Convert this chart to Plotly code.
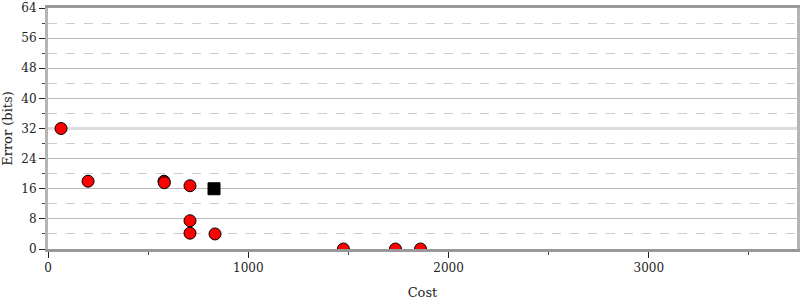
import plotly.graph_objects as go

cost_circles = [65, 200, 579, 581, 709, 709, 709, 834, 1475, 1735, 1860]
error_circles = [32, 18, 18, 17.6, 16.8, 7.5, 4.2, 4.0, 0, 0, 0]
cost_square = [829]
error_square = [16]

x_ticks = [0, 1000, 2000, 3000]
y_ticks = [0, 8, 16, 24, 32, 40, 48, 56, 64]
y_minor = [4, 12, 20, 28, 36, 44, 52, 60]
highlight_y = 32
grid_y = [v for v in y_ticks if v != highlight_y]

fig = go.Figure()
# invisible helper trace so the grid-only overlay axis gets drawn
fig.add_trace(go.Scatter(
    x=cost_circles[:1], y=error_circles[:1], yaxis="y2", mode="markers",
    marker=dict(opacity=0), hoverinfo="skip", showlegend=False,
))
fig.add_trace(go.Scatter(
    x=cost_circles, y=error_circles, mode="markers",
    marker=dict(symbol="circle", size=12, color="#ff0000",
                line=dict(color="#000000", width=1)),
    showlegend=False,
))
fig.add_trace(go.Scatter(
    x=cost_square, y=error_square, mode="markers",
    marker=dict(symbol="square", size=12, color="#000000",
                line=dict(color="#000000", width=1)),
    showlegend=False,
))

fig.add_shape(type="line", xref="paper", x0=0, x1=1, yref="y", y0=highlight_y, y1=highlight_y,
              line=dict(color="#dddddd", width=3), layer="below")

fig.update_layout(
    width=800, height=300,
    margin=dict(l=48, r=3, t=8, b=51),
    plot_bgcolor="white", paper_bgcolor="white",
    font=dict(family="DejaVu Serif", size=12, color="#222"),
    xaxis=dict(
        range=[0, 3740], tickvals=x_ticks, showgrid=False, zeroline=False,
        showline=True, linecolor="#999999", linewidth=3, mirror=True,
        ticks="outside", ticklen=6, tickcolor="#222", tickwidth=1,
        minor=dict(dtick=500, tick0=0, ticks="outside", ticklen=3, tickcolor="#444", showgrid=False),
        title=dict(text="Cost", font=dict(size=13)),
        automargin=False,
    ),
    yaxis=dict(
        range=[0, 64], tickvals=y_ticks, zeroline=False,
        showgrid=False,
        showline=True, linecolor="#b5b5b5", linewidth=3, mirror="ticks",
        ticks="outside", ticklen=6, tickcolor="#222", tickwidth=1,
        minor=dict(tickmode="array", tickvals=y_minor, ticks="outside", ticklen=3, tickcolor="#444",
                   showgrid=True, gridcolor="#cccccc", griddash="dash", gridwidth=1),
        title=dict(text="Error (bits)", font=dict(size=13)),
        automargin=False,
    ),
    yaxis2=dict(
        range=[0, 64], overlaying="y", side="left", tickvals=grid_y,
        showticklabels=False, ticks="", showline=False, zeroline=False,
        showgrid=True, gridcolor="#bbbbbb", gridwidth=1, automargin=False,
    ),
)

fig.write_html("out.html")
